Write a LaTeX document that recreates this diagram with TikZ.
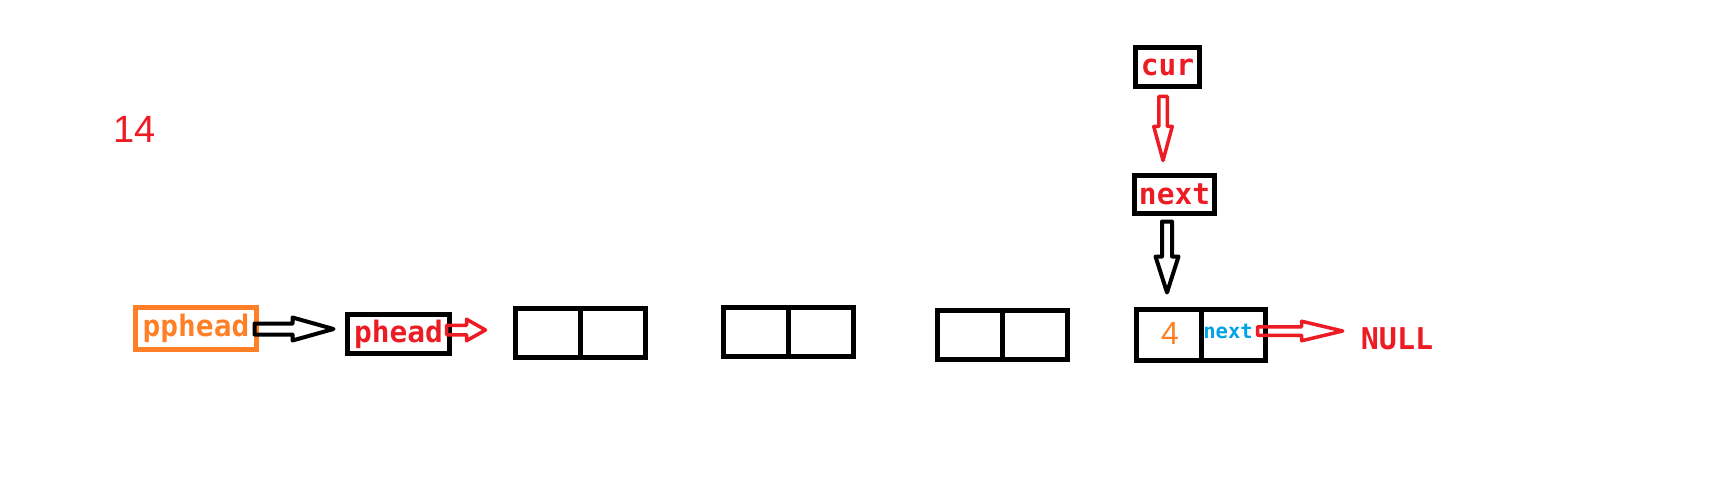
\documentclass[tikz,border=0pt]{standalone}
\usepackage{fontspec}
\setmonofont{DejaVu Sans Mono}
\newfontfamily\libsans{Liberation Sans}
\usetikzlibrary{calc}
\definecolor{pred}{HTML}{ED1C24}
\definecolor{porange}{HTML}{FF7F27}
\definecolor{pblue}{HTML}{00A2E8}
% horizontal hollow block arrow: style, start, tip, shaft half, head half, head length
\newcommand\harrowshape[6]{\draw[#1] let \p1=#2, \p2=#3 in
  (\x1,\y1+#4) -- (\x2-#6,\y1+#4) -- (\x2-#6,\y1+#5) -- (\x2,\y1) --
  (\x2-#6,\y1-#5) -- (\x2-#6,\y1-#4) -- (\x1,\y1-#4) -- cycle;}
% vertical (downward) hollow block arrow
\newcommand\varrowshape[6]{\draw[#1] let \p1=#2, \p2=#3 in
  (\x1+#4,\y1) -- (\x1+#4,\y2+#6) -- (\x1+#5,\y2+#6) -- (\x1,\y2) --
  (\x1-#5,\y2+#6) -- (\x1-#4,\y2+#6) -- (\x1-#4,\y1) -- cycle;}
\begin{document}
\begin{tikzpicture}[x=1pt,y=1pt,
  box/.style={draw, line width=5pt, inner sep=0pt,
    font=\ttfamily\bfseries\fontsize{29.5}{31}\selectfont},
  cell/.style={draw, line width=5pt, minimum width=130pt, minimum height=49pt, inner sep=0pt},
  divider/.style={line width=5pt},
  barrow/.style={draw=black, line width=4pt, line join=round},
  rarrow/.style={draw=pred, line width=3.5pt, line join=round}]
\useasboundingbox (0,0) rectangle (1728,499);
\fill[white] (0,0) rectangle (1728,499);

\node[text=pred, font=\libsans\fontsize{38}{40}\selectfont] (num) at (135,370) {14};

\node[box, draw=porange, text=porange, minimum width=121pt, minimum height=42pt] (pphead) at (196,170.5) {pphead};
\node[box, text=pred, minimum width=102pt, minimum height=39pt] (phead) at (398.5,165) {phead};

\node[cell] (b1) at (580.5,166) {};
\node[cell] (b2) at (788,167) {};
\node[cell] (b3) at (1002.5,164.5) {};
\node[cell, minimum width=129pt, minimum height=51pt] (b4) at (1201,164) {};
\foreach \b in {b1,b2,b3,b4} \draw[divider] (\b.north) -- (\b.south);

\node[text=porange, font=\libsans\fontsize{32}{34}\selectfont, inner sep=0pt] (four) at ($(b4.center)+(-31,1.5)$) {4};
\node[text=pblue, font=\ttfamily\bfseries\fontsize{20.5}{22}\selectfont, inner sep=0pt] (nxt) at ($(b4.center)+(27,3.5)$) {next};

\node[box, text=pred, minimum width=64pt, minimum height=39pt] (cur) at (1167.5,432) {cur};
\node[box, text=pred, minimum width=80pt, minimum height=38pt] (next) at (1174.5,304.5) {next};

\node[text=pred, font=\ttfamily\bfseries\fontsize{30}{32}\selectfont, inner sep=0pt] (null) at (1397,160) {NULL};

\harrowshape{barrow}{($(pphead.east)+(-4.5,-0.5)$)}{($(phead.west)+(-11.5,0)$)}{5.5pt}{11.5pt}{41pt}
\harrowshape{rarrow}{($(phead.east)+(-5.5,4)$)}{($(b1.west)+(-27.5,0)$)}{4.75pt}{10.75pt}{19pt}
\varrowshape{rarrow}{($(cur.south)+(-4.5,-7.5)$)}{($(next.north)+(0,12.5)$)}{4.25pt}{9.25pt}{34pt}
\varrowshape{barrow}{($(next.south)+(-7.5,-5.5)$)}{($(b4.north)+(0,14.5)$)}{5pt}{11.5pt}{36pt}
\harrowshape{rarrow}{($(b4.east)+(-10.5,4)$)}{($(null.west)+(-18,0)$)}{4.25pt}{9.75pt}{41pt}
\end{tikzpicture}
\end{document}
